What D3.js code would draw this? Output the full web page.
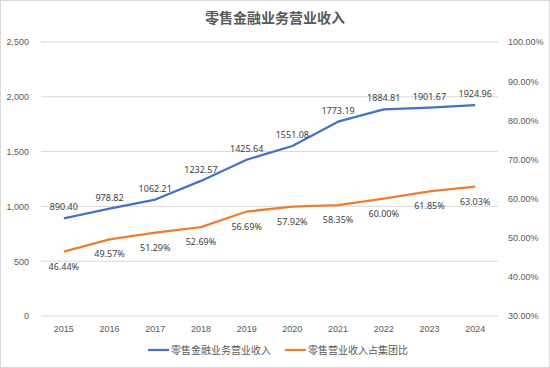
<!DOCTYPE html>
<html><head><meta charset="utf-8">
<script src="https://cdn.jsdelivr.net/npm/d3@7"></script>
<style>
body{margin:0;background:#fff;}
svg{display:block;font-family:"Noto Sans","Noto Sans CJK SC",sans-serif;}
</style></head><body>
<svg id="c" width="550" height="368"></svg>
<script>
const years = ["2015","2016","2017","2018","2019","2020","2021","2022","2023","2024"];
const revenue = [890.40,978.82,1062.21,1232.57,1425.64,1551.08,1773.19,1884.81,1901.67,1924.96];
const share = [46.44,49.57,51.29,52.69,56.69,57.92,58.35,60.00,61.85,63.03];
const leftTicks = [0,500,1000,1500,2000,2500];
const rightTicks = [30,40,50,60,70,80,90,100];
const title = "零售金融业务营业收入";
const seriesNames = ["零售金融业务营业收入","零售营业收入占集团比"];
const colors = ["#4472C4","#ED7D31"];

const svg = d3.select("#c");
svg.append("rect").attr("x",0.5).attr("y",0.5).attr("width",549).attr("height",367)
  .attr("fill","#fff").attr("stroke","#d9d9d9");

const x = d3.scaleBand().domain(years).range([41,498]);
const yL = d3.scaleLinear().domain([0,2500]).range([316,42]);
const yR = d3.scaleLinear().domain([30,100]).range([316,42]);

// gridlines
svg.append("g").selectAll("line").data(leftTicks).join("line")
  .attr("x1",41).attr("x2",498).attr("y1",d=>yL(d)).attr("y2",d=>yL(d))
  .attr("stroke","#d9d9d9").attr("stroke-width",1);

// left axis
const gl = svg.append("g").attr("transform","translate(41,0)")
  .call(d3.axisLeft(yL).tickValues(leftTicks).tickFormat(d3.format(",")).tickSize(0).tickPadding(12));
gl.select(".domain").remove();
gl.selectAll("text").attr("fill","#595959").style("font-size","9px");

// right axis
const gr = svg.append("g").attr("transform","translate(498,0)")
  .call(d3.axisRight(yR).tickValues(rightTicks).tickFormat(d=>d.toFixed(2)+"%").tickSize(0).tickPadding(10));
gr.select(".domain").remove();
gr.selectAll("text").attr("fill","#595959").style("font-size","9px");

// bottom axis
const gb = svg.append("g").attr("transform","translate(0,316)")
  .call(d3.axisBottom(x).tickSize(0).tickPadding(10));
gb.select(".domain").remove();
gb.selectAll("text").attr("fill","#595959").style("font-size","9px");

const cx = d=>x(d)+x.bandwidth()/2;

// lines
svg.append("path").datum(revenue)
  .attr("d",d3.line().x((d,i)=>cx(years[i])).y(d=>yL(d)))
  .attr("fill","none").attr("stroke",colors[0]).attr("stroke-width",2.25).attr("stroke-linejoin","round");
svg.append("path").datum(share)
  .attr("d",d3.line().x((d,i)=>cx(years[i])).y(d=>yR(d)))
  .attr("fill","none").attr("stroke",colors[1]).attr("stroke-width",2.25).attr("stroke-linejoin","round");

// labels
svg.append("g").selectAll("text").data(revenue).join("text")
  .attr("x",(d,i)=>cx(years[i])).attr("y",d=>yL(d)-8)
  .attr("text-anchor","middle").attr("fill","#404040").style("font-size","9px")
  .text(d=>d.toFixed(2));
svg.append("g").selectAll("text").data(share).join("text")
  .attr("x",(d,i)=>cx(years[i])).attr("y",d=>yR(d)+18)
  .attr("text-anchor","middle").attr("fill","#404040").style("font-size","9px")
  .text(d=>d.toFixed(2)+"%");

// title
svg.append("text").attr("x",275).attr("y",23).attr("text-anchor","middle")
  .attr("fill","#595959").style("font-size","14px").style("font-weight","bold")
  .style("font-family","'Noto Sans CJK SC',sans-serif").text(title);

// legend
const lg = [{x:148,name:seriesNames[0],c:colors[0]},{x:285,name:seriesNames[1],c:colors[1]}];
const leg = svg.append("g").selectAll("g").data(lg).join("g");
leg.append("line").attr("x1",d=>d.x).attr("x2",d=>d.x+21).attr("y1",350).attr("y2",350)
  .attr("stroke",d=>d.c).attr("stroke-width",2.25);
leg.append("text").attr("x",d=>d.x+23).attr("y",354).attr("fill","#595959")
  .style("font-size","10px").style("font-family","'Noto Sans CJK SC',sans-serif").text(d=>d.name);
</script></body></html>
